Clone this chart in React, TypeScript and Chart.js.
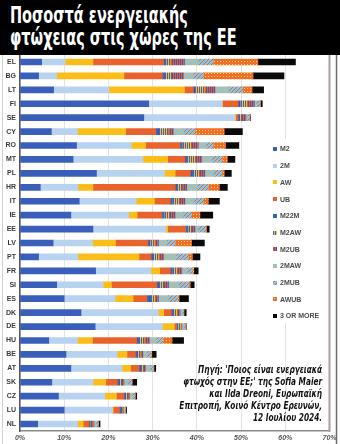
import React, { useEffect, useRef } from 'react';
import { Chart, registerables } from 'chart.js';
Chart.register(...registerables);

const countries = ['EL', 'BG', 'LT', 'FI', 'SE', 'CY', 'RO', 'MT', 'PL', 'HR', 'IT', 'IE', 'EE', 'LV', 'PT', 'FR', 'SI', 'ES', 'DK', 'DE', 'HU', 'BE', 'AT', 'SK', 'CZ', 'LU', 'NL'];
const seriesNames = ['M2', '2M', 'AW', 'UB', 'M22M', 'M2AW', 'M2UB', '2MAW', '2MUB', 'AWUB', '3 OR MORE'];
const xTicks = [0, 10, 20, 30, 40, 50, 60, 70];

const m2 = [4.9, 4.2, 7.6, 29.1, 28.0, 7.1, 12.8, 12.0, 17.3, 4.6, 13.4, 11.5, 16.5, 7.5, 4.2, 17.1, 8.3, 10.0, 13.8, 17.0, 6.5, 10.4, 11.5, 7.2, 8.7, 10.0, 4.0];
const twoM = [5.3, 4.1, 12.5, 16.6, 20.6, 5.9, 12.4, 15.8, 15.4, 8.5, 12.9, 13.1, 16.5, 8.9, 8.9, 12.5, 10.5, 11.5, 17.5, 15.2, 6.5, 11.6, 11.6, 9.3, 10.5, 10.9, 9.0];
const aw = [6.3, 15.2, 17.1, 0.1, 0.2, 10.9, 3.2, 5.6, 2.4, 3.4, 4.1, 1.9, 0.4, 5.2, 13.8, 2.0, 1.9, 4.1, 1.2, 2.7, 3.4, 2.2, 1.9, 2.9, 2.6, 0.2, 1.3];
const ub = [16.0, 8.7, 2.0, 3.5, 0.5, 6.8, 7.8, 3.9, 3.4, 18.6, 3.6, 5.6, 4.1, 7.3, 2.7, 2.4, 10.2, 3.1, 1.7, 0.5, 10.0, 1.9, 1.9, 2.6, 1.7, 1.4, 1.3];
const m22m = [0.5, 0.5, 0.5, 0.5, 0.3, 0.8, 0.5, 0.5, 0.8, 0.5, 0.5, 0.5, 0.5, 0.5, 0.5, 0.5, 0.5, 1.0, 0.5, 0.3, 0.5, 0.5, 0.5, 0.5, 0.4, 0.3, 0.3];
const m2aw = [1.0, 1.6, 2.0, 1.5, 0.5, 2.0, 2.0, 1.8, 1.2, 1.0, 1.5, 1.2, 0.8, 1.0, 1.2, 1.0, 1.1, 0.8, 0.8, 0.6, 1.2, 0.6, 0.5, 0.5, 0.5, 0.3, 0.4];
const m2ub = [3.2, 2.7, 2.4, 1.7, 1.0, 1.2, 1.6, 1.5, 1.3, 1.1, 1.3, 1.3, 0.8, 0.9, 1.2, 1.1, 1.1, 0.8, 0.7, 0.3, 1.2, 0.6, 0.5, 0.5, 0.4, 0.3, 0.4];
const twoMaw = [3.1, 2.2, 3.0, 0.4, 0.3, 2.3, 1.7, 2.2, 1.9, 2.4, 2.0, 1.8, 0.6, 1.9, 2.8, 1.2, 2.3, 2.2, 0.4, 0.5, 1.5, 0.9, 0.9, 0.9, 0.6, 0.2, 0.5];
const twoMub = [3.4, 2.3, 3.3, 0.9, 0.5, 2.6, 1.7, 2.4, 2.0, 2.5, 2.2, 1.9, 1.8, 1.9, 2.8, 1.2, 2.3, 2.2, 0.4, 0.3, 1.5, 0.9, 0.9, 0.9, 0.6, 0.2, 0.5];
const awub = [10.1, 11.2, 2.1, 0.1, 0.1, 6.6, 2.8, 1.2, 0.5, 2.5, 1.1, 1.9, 0.2, 3.7, 0.9, 0.3, 0.3, 0.3, 0.1, 0.1, 2.1, 0.2, 0.1, 0.1, 0.1, 0.1, 0.1];
const threeOrMore = [8.5, 7.0, 2.6, 0.4, 0.1, 4.1, 3.0, 1.7, 1.6, 1.8, 2.5, 2.9, 0.6, 2.9, 1.7, 1.0, 0.9, 2.1, 0.5, 0.1, 2.6, 1.0, 0.4, 1.0, 0.3, 0.2, 0.3];

const seriesData = [m2, twoM, aw, ub, m22m, m2aw, m2ub, twoMaw, twoMub, awub, threeOrMore];

function makePattern(w: number, h: number, draw: (c: CanvasRenderingContext2D) => void): CanvasPattern {
  const cv = document.createElement('canvas');
  cv.width = w;
  cv.height = h;
  const c = cv.getContext('2d')!;
  draw(c);
  return c.createPattern(cv, 'repeat')!;
}

function buildFills(): (string | CanvasPattern)[] {
  const pM22M = makePattern(3, 1, (c) => {
    c.fillStyle = '#2f6cc0'; c.fillRect(0, 0, 3, 1);
    c.fillStyle = '#5a4a9c'; c.fillRect(2, 0, 1, 1);
  });
  const pM2AW = makePattern(2, 1, (c) => {
    c.fillStyle = '#f2c12e'; c.fillRect(0, 0, 1, 1);
    c.fillStyle = '#4462b0'; c.fillRect(1, 0, 1, 1);
  });
  const pM2UB = makePattern(2, 1, (c) => {
    c.fillStyle = '#5a50a0'; c.fillRect(0, 0, 1, 1);
    c.fillStyle = '#d9603a'; c.fillRect(1, 0, 1, 1);
  });
  const p2MAW = makePattern(4, 4, (c) => {
    c.fillStyle = '#86c5e8'; c.fillRect(0, 0, 4, 4);
    c.fillStyle = '#f5b526';
    for (let i = 0; i < 4; i++) c.fillRect(i, i, 1, 1);
  });
  const p2MUB = makePattern(4, 4, (c) => {
    c.fillStyle = '#86c5e8'; c.fillRect(0, 0, 4, 4);
    c.fillStyle = '#e5652f';
    for (let i = 0; i < 4; i++) c.fillRect(3 - i, i, 1, 1);
  });
  const pAWUB = makePattern(3, 3, (c) => {
    c.fillStyle = '#f06e2a'; c.fillRect(0, 0, 3, 3);
    c.fillStyle = '#ffd84a'; c.fillRect(1, 1, 1, 1);
  });
  return ['#3a5fbb', '#b8d3ef', '#fbbd18', '#e9622c', pM22M, pM2AW, pM2UB, p2MAW, p2MUB, pAWUB, '#0a0a0a'];
}

export default function App() {
  const ref = useRef<HTMLCanvasElement>(null);

  useEffect(() => {
    if (!ref.current) return;
    const fills = buildFills();
    Chart.defaults.font.family = '"Liberation Sans", Arial, sans-serif';

    const legendPlugin = {
      id: 'customLegend',
      afterDraw(chart: any) {
        const ctx = chart.ctx as CanvasRenderingContext2D;
        ctx.save();
        ctx.fillStyle = '#ffffff';
        ctx.fillRect(266, 139, 62, 184);
        ctx.font = 'bold 7px "Liberation Sans", Arial, sans-serif';
        ctx.textBaseline = 'middle';
        seriesNames.forEach((n, i) => {
          const y = 149 + i * 16.7;
          ctx.fillStyle = fills[i] as any;
          ctx.fillRect(273, Math.round(y - 2), 4, 4);
          ctx.fillStyle = '#4a4a4a';
          ctx.fillText(n, 280, y + 0.5);
        });
        // frame lines
        ctx.strokeStyle = '#a89c9c';
        ctx.lineWidth = 2;
        ctx.beginPath();
        ctx.moveTo(329.5, 55);
        ctx.lineTo(329.5, 432);
        ctx.stroke();
        ctx.strokeStyle = '#6b6b6b';
        ctx.lineWidth = 1.5;
        ctx.beginPath();
        ctx.moveTo(336.5, 55);
        ctx.lineTo(336.5, 444);
        ctx.stroke();
        ctx.strokeStyle = '#d0d0d0';
        ctx.lineWidth = 1;
        ctx.beginPath();
        ctx.moveTo(2.5, 55);
        ctx.lineTo(2.5, 444);
        ctx.stroke();
        ctx.restore();
      },
    };

    const chart = new Chart(ref.current, {
      type: 'bar',
      data: {
        labels: countries,
        datasets: seriesNames.map((name, i) => ({
          label: name,
          data: seriesData[i],
          backgroundColor: fills[i] as any,
          borderWidth: 0,
          barThickness: 6,
        })),
      },
      options: {
        indexAxis: 'y',
        animation: false,
        responsive: false,
        devicePixelRatio: 1,
        layout: { padding: { left: 0, top: 55, right: 10.5, bottom: 0 } },
        plugins: {
          legend: { display: false },
          title: { display: false },
          tooltip: { enabled: false },
        },
        scales: {
          x: {
            stacked: true,
            min: 0,
            max: 70,
            afterFit: (s: any) => { s.height = 13; },
            afterBuildTicks: (s: any) => { s.ticks = xTicks.map((v) => ({ value: v })); },
            ticks: {
              autoSkip: false,
              maxRotation: 0,
              padding: 3,
              color: '#555',
              font: { size: 7, weight: 'bold', style: 'italic' },
              callback: (v: any) => v + '%',
            },
            grid: { color: '#e2e2e2', lineWidth: 1, drawTicks: false },
            border: { color: '#8a8a8a', width: 1.5 },
          },
          y: {
            stacked: true,
            afterFit: (s: any) => { s.width = 20; },
            ticks: {
              autoSkip: false,
              padding: 4,
              color: '#3a3a3a',
              font: { size: 7, weight: 'bold' },
            },
            grid: { display: false, drawTicks: false },
            border: { color: '#555', width: 1.5 },
          },
        },
      },
      plugins: [legendPlugin],
    } as any);
    return () => chart.destroy();
  }, []);

  return (
    <div style={{ position: 'relative', width: 340, height: 444, background: '#fff', overflow: 'hidden' }}>
      <style>{'body{margin:0}'}</style>
      <canvas ref={ref} width={340} height={444} style={{ position: 'absolute', left: 0, top: 0, width: 340, height: 444 }} />
      <div style={{ position: 'absolute', left: 0, top: 0, width: 340, height: 55, background: '#000' }} />
      <div
        style={{
          position: 'absolute',
          left: 10,
          top: 4,
          color: '#fff',
          fontFamily: '"DejaVu Sans Condensed", "DejaVu Sans", sans-serif',
          fontWeight: 'bold',
          fontSize: 23,
          lineHeight: '22px',
          whiteSpace: 'nowrap',
          transform: 'scaleX(0.7)',
          transformOrigin: 'left top',
        }}
      >
        <div>Ποσοστά ενεργειακής</div>
        <div>φτώχειας στις χώρες της ΕΕ</div>
      </div>
      <div
        style={{
          position: 'absolute',
          right: 18,
          top: 364,
          textAlign: 'right',
          color: '#111',
          fontFamily: '"Liberation Sans Narrow", "DejaVu Sans Condensed", sans-serif',
          fontWeight: 'bold',
          fontStyle: 'italic',
          fontSize: 10,
          lineHeight: '12px',
          whiteSpace: 'nowrap',
          transform: 'scaleX(0.82)',
          transformOrigin: 'right top',
        }}
      >
        <div>Πηγή: 'Ποιος είναι ενεργειακά</div>
        <div>φτωχός στην ΕΕ;' της Sofia Maier</div>
        <div>και Ilda Dreoni, Ευρωπαϊκή</div>
        <div>Επιτροπή, Κοινό Κέντρο Ερευνών,</div>
        <div>12 Ιουλίου 2024.</div>
      </div>
    </div>
  );
}
